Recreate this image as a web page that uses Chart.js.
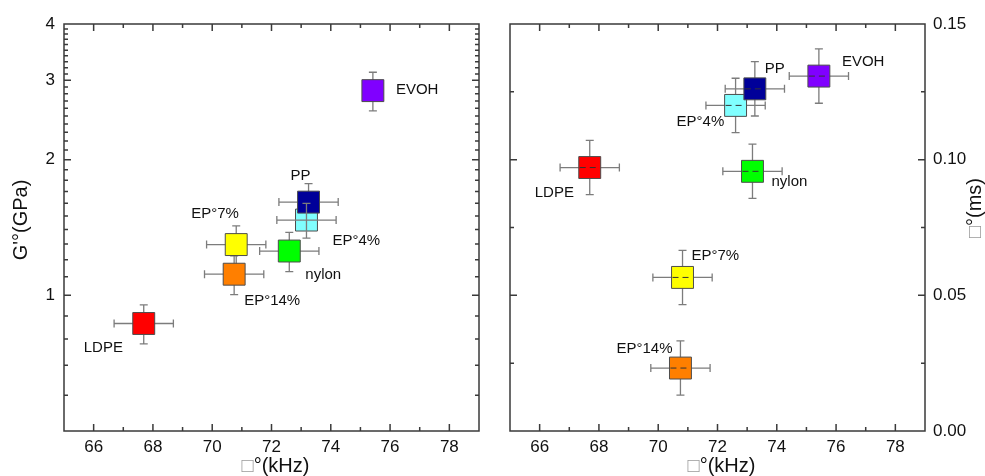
<!DOCTYPE html>
<html>
<head>
<meta charset="utf-8">
<script src="https://cdn.jsdelivr.net/npm/chart.js@4.4.0/dist/chart.umd.min.js"></script>
<style>
  html, body { margin: 0; padding: 0; background: #fff; }
  #wrap { position: relative; width: 985px; height: 476px; }
  #leftChart { position: absolute; left: 0; top: 0; }
  #rightChart { position: absolute; left: 490px; top: 0; }
</style>
</head>
<body>
<div id="wrap">
  <canvas id="leftChart" width="490" height="476"></canvas>
  <canvas id="rightChart" width="495" height="476"></canvas>
</div>
<script>
const FONT = '"Liberation Sans", Arial, sans-serif';
Chart.defaults.font.family = FONT;
Chart.defaults.color = '#111';

// materials, in draw order
const materials = ['LDPE', 'EP°14%', 'EP°7%', 'nylon', 'EP°4%', 'PP', 'EVOH'];
const materialColors = ['#ff0000', '#ff7f00', '#ffff00', '#00ff00', '#80ffff', '#000099', '#8000ff'];

// left panel: G' vs frequency
const freqLeft = [67.69, 70.74, 70.81, 72.60, 73.18, 73.25, 75.42];
const freqErrLeft = [1.0, 1.0, 1.0, 1.0, 1.0, 1.0, 0];
const modulus = [0.866, 1.114, 1.296, 1.254, 1.469, 1.61, 2.846];
const modulusErr = [0.086, 0.11, 0.13, 0.125, 0.13, 0.16, 0.28];

// right panel: time vs frequency
const freqRight = [67.69, 70.75, 70.82, 73.18, 72.61, 73.26, 75.42];
const freqErrRight = [1.0, 1.0, 1.0, 1.0, 1.0, 1.0, 1.0];
const tau = [0.0971, 0.0232, 0.0566, 0.0957, 0.120, 0.1261, 0.1308];
const tauErr = [0.010, 0.010, 0.010, 0.010, 0.010, 0.010, 0.010];

// tick labels
const xTicks = [66, 68, 70, 72, 74, 76, 78];
const yTicksLeft = [1, 2, 3, 4];
const yTicksRight = [0.00, 0.05, 0.10, 0.15];

// label placement (px from point centre, left edge / middle)
const labelOffsetLeft = [[-60, 24], [10, 27], [-45, -31], [16, 24], [26, 21], [-18, -26], [23, -1]];
const labelOffsetRight = [[-55, 25], [-64, -19], [9, -22], [19, 11], [-59, 16], [10, -20], [23, -14]];

function drawErrorBars(chart, filter) {
  const ctx = chart.ctx;
  const ds = chart.data.datasets[0];
  const xs = chart.scales.x, ys = chart.scales.y;
  ctx.save();
  ctx.strokeStyle = '#7c7c7c';
  ctx.lineWidth = 1.3;
  ds.data.forEach((p, i) => {
    if (!filter(i)) return;
    const px = xs.getPixelForValue(p.x), py = ys.getPixelForValue(p.y);
    ctx.beginPath();
    if (ds.xErr[i] > 0) {
      const x0 = xs.getPixelForValue(p.x - ds.xErr[i]);
      const x1 = xs.getPixelForValue(p.x + ds.xErr[i]);
      ctx.moveTo(x0, py); ctx.lineTo(x1, py);
      ctx.moveTo(x0, py - 4); ctx.lineTo(x0, py + 4);
      ctx.moveTo(x1, py - 4); ctx.lineTo(x1, py + 4);
    }
    if (ds.yErr[i] > 0) {
      const y0 = ys.getPixelForValue(p.y - ds.yErr[i]);
      const y1 = ys.getPixelForValue(p.y + ds.yErr[i]);
      ctx.moveTo(px, y0); ctx.lineTo(px, y1);
      ctx.moveTo(px - 4, y0); ctx.lineTo(px + 4, y0);
      ctx.moveTo(px - 4, y1); ctx.lineTo(px + 4, y1);
    }
    ctx.stroke();
  });
  ctx.restore();
}

function drawTitleParts(ctx, parts, cx, cy) {
  // parts: [[text, color], ...] centred on (cx, cy)
  const w = parts.reduce((s, p) => s + ctx.measureText(p[0]).width, 0);
  let x = cx - w / 2;
  parts.forEach(p => {
    ctx.fillStyle = p[1];
    ctx.fillText(p[0], x, cy);
    x += ctx.measureText(p[0]).width;
  });
}

const panelPlugin = {
  id: 'panel',
  beforeDatasetsDraw(chart, args, opts) {
    drawErrorBars(chart, i => !(opts.overlay || []).includes(i));
  },
  afterDatasetsDraw(chart, args, opts) {
    const ctx = chart.ctx;
    drawErrorBars(chart, i => (opts.overlay || []).includes(i));
    const ds = chart.data.datasets[0];
    const xs = chart.scales.x, ys = chart.scales.y;
    if (opts.dashed) {
      ctx.save();
      ctx.strokeStyle = '#333';
      ctx.lineWidth = 1;
      ctx.setLineDash([6, 4]);
      ds.data.forEach(p => {
        const px = xs.getPixelForValue(p.x), py = ys.getPixelForValue(p.y);
        ctx.beginPath();
        ctx.moveTo(px - 10, py); ctx.lineTo(px + 10, py);
        ctx.stroke();
      });
      ctx.restore();
    }
    // material labels
    ctx.save();
    ctx.font = '15px ' + FONT;
    ctx.fillStyle = '#111';
    ctx.textBaseline = 'middle';
    ctx.textAlign = 'left';
    ds.data.forEach((p, i) => {
      const px = xs.getPixelForValue(p.x), py = ys.getPixelForValue(p.y);
      ctx.fillText(materials[i], px + opts.labelOffsets[i][0], py + opts.labelOffsets[i][1]);
    });
    ctx.restore();
  },
  afterDraw(chart, args, opts) {
    const ctx = chart.ctx;
    const a = chart.chartArea;
    const xs = chart.scales.x, ys = chart.scales.y;
    ctx.save();
    ctx.strokeStyle = '#3a3a3a';
    ctx.lineWidth = 1.5;
    ctx.beginPath();
    // inward ticks, mirrored on opposite sides
    xs.ticks.forEach(t => {
      const v = t.value;
      if (v <= xs.min || v >= xs.max) return;
      const x = xs.getPixelForValue(v);
      const len = xTicks.includes(v) ? 7 : 4;
      ctx.moveTo(x, a.bottom); ctx.lineTo(x, a.bottom - len);
      ctx.moveTo(x, a.top); ctx.lineTo(x, a.top + len);
    });
    ys.ticks.forEach(t => {
      const v = t.value;
      if (v <= ys.min + 1e-9 || v >= ys.max - 1e-9) return;
      const y = ys.getPixelForValue(v);
      const len = opts.yMajor.some(m => Math.abs(m - v) < 1e-9) ? 7 : 4;
      ctx.moveTo(a.left, y); ctx.lineTo(a.left + len, y);
      ctx.moveTo(a.right, y); ctx.lineTo(a.right - len, y);
    });
    ctx.stroke();
    ctx.strokeRect(a.left, a.top, a.right - a.left, a.bottom - a.top);
    ctx.restore();

    // axis titles
    ctx.save();
    ctx.font = '20px ' + FONT;
    ctx.textBaseline = 'middle';
    ctx.textAlign = 'left';
    drawTitleParts(ctx, [['□', '#9a9a9a'], ['°(kHz)', '#111']], (a.left + a.right) / 2 + 4, 466);
    ctx.translate(opts.yTitleX, opts.yTitleY);
    ctx.rotate(-Math.PI / 2);
    drawTitleParts(ctx, opts.yTitle, 0, 0);
    ctx.restore();
  }
};

function xScale() {
  return {
    type: 'linear',
    min: 65, max: 79,
    grid: { display: false, drawTicks: false },
    border: { display: false },
    afterBuildTicks: s => {
      const list = [];
      for (let v = 65; v <= 79; v++) list.push({ value: v });
      s.ticks = list;
    },
    ticks: {
      autoSkip: false, maxRotation: 0, padding: 6,
      font: { size: 17 },
      callback: v => xTicks.includes(v) ? String(v) : ''
    },
    afterFit: s => {
      s.height = 45;
      s.paddingLeft = 0;
      s.paddingRight = 0;
    }
  };
}

new Chart(document.getElementById('leftChart'), {
  type: 'scatter',
  data: {
    datasets: [{
      data: materials.map((m, i) => ({ x: freqLeft[i], y: modulus[i] })),
      xErr: freqErrLeft,
      yErr: modulusErr,
      pointStyle: 'rect',
      pointRadius: 15.5,
      pointBackgroundColor: materialColors,
      pointBorderColor: '#4d4d4d',
      pointBorderWidth: 1
    }]
  },
  options: {
    responsive: false,
    animation: false,
    events: [],
    layout: { autoPadding: false, padding: { left: 0, right: 11, top: 24, bottom: 0 } },
    plugins: {
      legend: { display: false },
      tooltip: { enabled: false },
      panel: {
        overlay: [4],
        labelOffsets: labelOffsetLeft,
        yMajor: yTicksLeft,
        yTitle: [["G'°(GPa)", '#111']],
        yTitleX: 21, yTitleY: 220
      }
    },
    scales: {
      x: xScale(),
      y: {
        type: 'logarithmic',
        min: 0.5, max: 4,
        grid: { display: false, drawTicks: false },
        border: { display: false },
        afterBuildTicks: s => {
          const list = [];
          for (let k = 5; k <= 40; k++) list.push({ value: k / 10 });
          s.ticks = list;
        },
        ticks: {
          autoSkip: false, padding: 9,
          font: { size: 17 },
          callback: v => yTicksLeft.includes(v) ? String(v) : ''
        },
        afterFit: s => { s.width = 64; }
      }
    }
  },
  plugins: [panelPlugin]
});

new Chart(document.getElementById('rightChart'), {
  type: 'scatter',
  data: {
    datasets: [{
      data: materials.map((m, i) => ({ x: freqRight[i], y: tau[i] })),
      xErr: freqErrRight,
      yErr: tauErr,
      pointStyle: 'rect',
      pointRadius: 15.5,
      pointBackgroundColor: materialColors,
      pointBorderColor: '#4d4d4d',
      pointBorderWidth: 1
    }]
  },
  options: {
    responsive: false,
    animation: false,
    events: [],
    layout: { autoPadding: false, padding: { left: 20, right: 0, top: 24, bottom: 0 } },
    plugins: {
      legend: { display: false },
      tooltip: { enabled: false },
      panel: {
        dashed: true,
        labelOffsets: labelOffsetRight,
        yMajor: yTicksRight,
        yTitle: [['□', '#9a9a9a'], ['°(ms)', '#111']],
        yTitleX: 485, yTitleY: 208
      }
    },
    scales: {
      x: xScale(),
      y: {
        type: 'linear',
        position: 'right',
        min: 0, max: 0.15,
        grid: { display: false, drawTicks: false },
        border: { display: false },
        afterBuildTicks: s => {
          const list = [];
          for (let k = 0; k <= 6; k++) list.push({ value: k * 0.025 });
          s.ticks = list;
        },
        ticks: {
          autoSkip: false, padding: 8,
          font: { size: 17 },
          callback: v => {
            const hit = yTicksRight.find(m => Math.abs(m - v) < 1e-9);
            return hit === undefined ? '' : hit.toFixed(2);
          }
        },
        afterFit: s => { s.width = 60; }
      }
    }
  },
  plugins: [panelPlugin]
});
</script>
</body>
</html>
